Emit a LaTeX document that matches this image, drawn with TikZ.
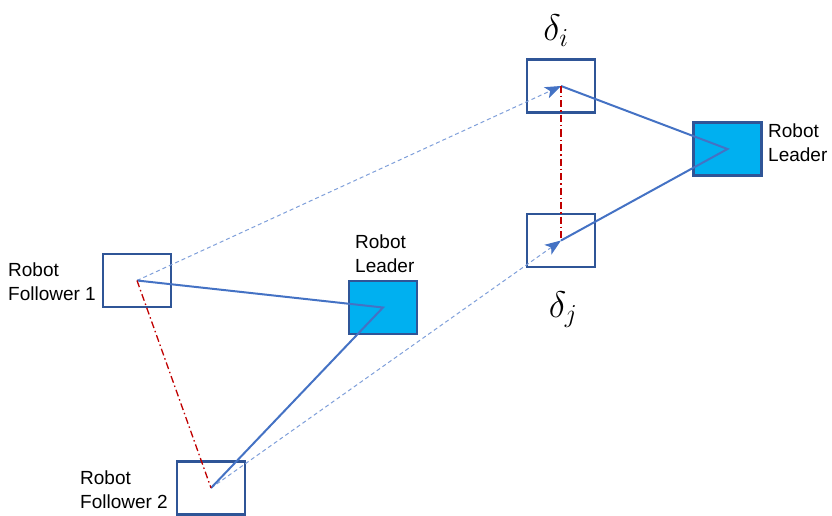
\RequirePackage{fix-cm}
\documentclass[tikz,border=0pt]{standalone}
\usepackage{fontspec}
\setmainfont{Liberation Sans}
\usetikzlibrary{arrows.meta}
\definecolor{boxblue}{HTML}{2F5597}
\definecolor{leaderfill}{HTML}{00B0F0}
\definecolor{lineblue}{HTML}{4472C4}
\definecolor{dashblue}{HTML}{7F9FDA}
\definecolor{relred}{HTML}{C00000}
\begin{document}
\begin{tikzpicture}[x=1pt,y=-1pt,
 robot/.style={draw=boxblue, line width=2.2pt, minimum width=68pt, minimum height=53pt, inner sep=0pt},
 leader/.style={robot, fill=leaderfill},
 link/.style={draw=lineblue, line width=2pt},
 guide/.style={draw=dashblue, line width=1pt, dash pattern=on 4pt off 3pt, -{Stealth[length=16pt,width=12pt,inset=4pt,color=lineblue]}},
 rel/.style={draw=relred, line width=1.3pt, dash pattern=on 7pt off 3pt on 1.5pt off 3pt},
 lbl/.style={font=\fontsize{19}{23.5}\selectfont, align=left, anchor=north west, inner sep=0pt},
 dlbl/.style={font=\fontsize{37}{42}\selectfont, inner sep=0pt, anchor=base}]
\useasboundingbox (0,0) rectangle (832,516);
% boxes
\node[robot] (f1) at (137,280.5) {};
\node[robot] (f2) at (211,488) {};
\node[leader] (l1) at (383,307.5) {};
\node[robot] (di) at (561,86) {};
\node[robot] (dj) at (561,240.5) {};
\node[leader] (l2) at (727.5,149) {};
% labels
\node[lbl] (f1lbl) at (8,263) {Robot\\Follower 1};
\node[lbl] (f2lbl) at (80,471) {Robot\\Follower 2};
\node[lbl] (l1lbl) at (355,235) {Robot\\Leader};
\node[lbl] (l2lbl) at (768,124) {Robot\\Leader};
\node[dlbl] (dilbl) at (556,41) {$\delta_i$};
\node[dlbl] (djlbl) at (563,317) {$\delta_j$};
% guide lines
\draw[guide] (f1.center) -- (di.center);
\draw[guide] (f2.center) -- (dj.center);
% links
\draw[link] (f1.center) -- (l1.center) -- (f2.center);
\draw[link] (di.center) -- (l2.center) -- (dj.center);
% relations
\draw[rel] (f1.center) -- (f2.center);
\draw[rel] (di.center) -- (dj.center);
\end{tikzpicture}
\end{document}
